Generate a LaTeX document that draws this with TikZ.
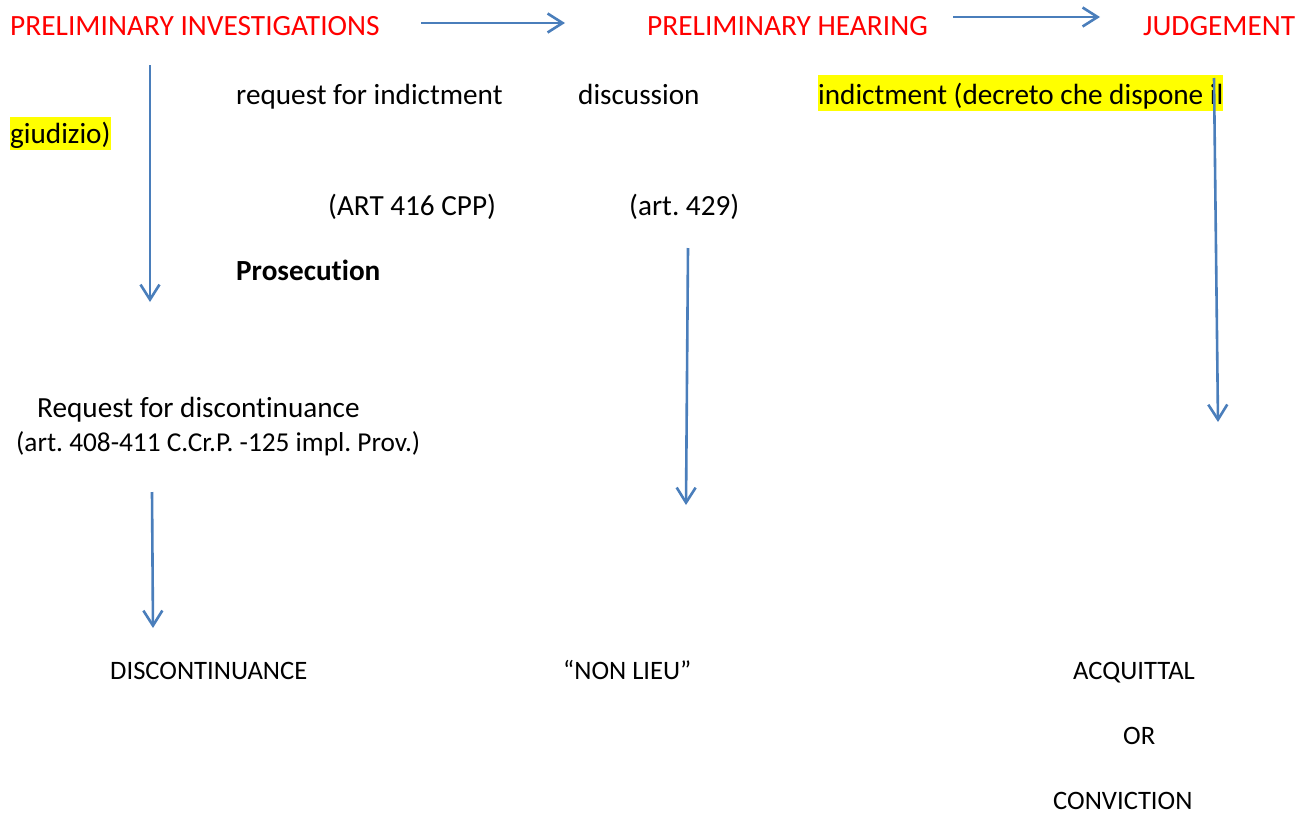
\documentclass[tikz,border=0pt]{standalone}
\usepackage{fontspec}
\setmainfont{Carlito}[Ligatures=NoCommon]
\usetikzlibrary{arrows.meta}
\definecolor{azul}{RGB}{74,126,187}
\definecolor{rojo}{RGB}{255,0,0}
\definecolor{resalte}{RGB}{255,255,0}
\frenchspacing
\begin{document}
\begin{tikzpicture}[
  x=1pt, y=-1pt,
  titulo/.style={anchor=base west, inner sep=0pt, text=rojo, font=\fontsize{29.4}{34}\selectfont},
  texto/.style={anchor=base west, inner sep=0pt, font=\fontsize{29.2}{34}\selectfont},
  pequeno/.style={anchor=base west, inner sep=0pt, font=\fontsize{27.3}{31}\selectfont},
  final/.style={anchor=base west, inner sep=0pt, font=\fontsize{26.6}{31}\selectfont},
  marcado/.style={texto, fill=resalte},
  flecha/.style={draw=azul, line width=2.6pt, -{Straight Barb[length=15pt,width=19pt]}}
]
  % Caja del dibujo (en pixeles de la referencia)
  \useasboundingbox (0,0) rectangle (1309,814);

  % Fases
  \node[titulo] (inv) at (10,35)   {PRELIMINARY INVESTIGATIONS};
  \node[titulo] (aud) at (647,35)  {PRELIMINARY HEARING};
  \node[titulo] (jui) at (1143,35) {JUDGEMENT};

  % Textos intermedios
  \node[texto] (req) at (236,104) {request for indictment};
  \node[texto] (dis) at (578,104) {discussion};
  \node[marcado, text height=29pt, text depth=7pt] (dec) at (818,104) {indictment (decreto che dispone il};
  \node[marcado, text height=26pt, text depth=7pt] (giu) at (10,143) {giudizio)};
  \node[texto] (art1) at (328,215) {(ART 416 CPP)};
  \node[texto] (art2) at (629,215) {(art. 429)};
  \node[texto, font=\fontsize{29.2}{34}\selectfont\bfseries] (pro) at (236,280) {Prosecution};
  \node[texto] (rdi) at (37,417) {Request for discontinuance};
  \node[pequeno] (art3) at (16,451) {(art. 408-411 C.Cr.P. -125 impl. Prov.)};

  % Resultados
  \node[final] (arc) at (110,679)  {DISCONTINUANCE};
  \node[final] (nol) at (563,679)  {“NON LIEU”};
  \node[final] (acq) at (1073,679) {ACQUITTAL};
  \node[final] (or)  at (1123,744) {OR};
  \node[final] (con) at (1053,809) {CONVICTION};

  % Extremos de las flechas
  \coordinate (a1) at (421,23);   \coordinate (b1) at (565,23);
  \coordinate (a2) at (953,17);   \coordinate (b2) at (1100,17);
  \coordinate (a3) at (150,65);   \coordinate (b3) at (150,302);
  \coordinate (a4) at (152,492);  \coordinate (b4) at (153,628);
  \coordinate (a5) at (688,248);  \coordinate (b5) at (686,505);
  \coordinate (a6) at (1214,78);  \coordinate (b6) at (1218,422);

  % Flechas
  \foreach \i in {1,...,6}
    \draw[flecha] (a\i) -- (b\i);
\end{tikzpicture}
\end{document}
